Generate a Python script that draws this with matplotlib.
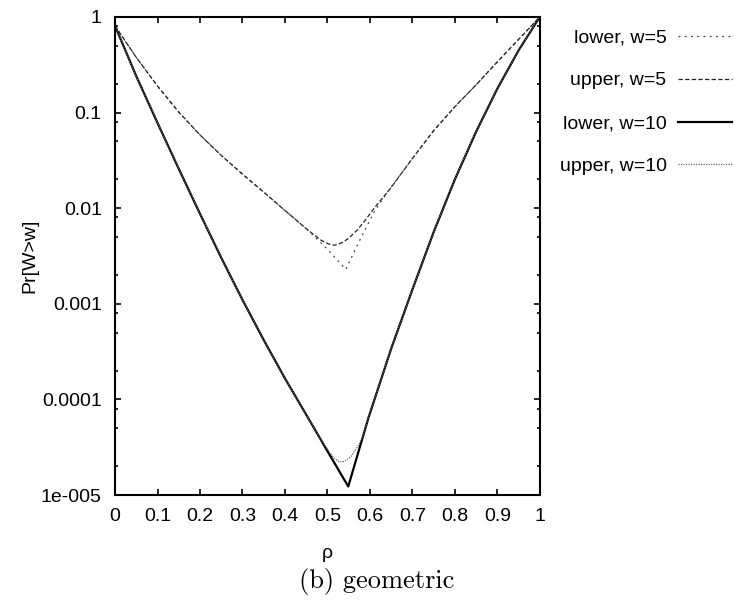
import matplotlib
matplotlib.use('Agg')
import matplotlib.pyplot as plt
from matplotlib.ticker import FixedLocator, FixedFormatter

# values (rho, Pr[W>w])
rho_w5_upper = [0, 0.05, 0.1, 0.15, 0.2, 0.25, 0.3, 0.35, 0.4, 0.45, 0.47, 0.485, 0.5,
                0.51, 0.52, 0.535, 0.55, 0.57, 0.59, 0.61, 0.647, 0.7, 0.75, 0.8, 0.85,
                0.9, 0.95, 1.0]
pr_w5_upper = [0.805, 0.377, 0.189, 0.101, 0.0583, 0.0356, 0.0227, 0.0147, 0.00946,
               0.00611, 0.00519, 0.00462, 0.00427, 0.00412, 0.00412, 0.00437, 0.00484,
               0.00589, 0.00759, 0.01, 0.0158, 0.0331, 0.0646, 0.115, 0.195, 0.339,
               0.582, 1.0]

rho_w5_lower = [0, 0.05, 0.1, 0.15, 0.2, 0.25, 0.3, 0.35, 0.4, 0.45, 0.5, 0.543, 0.58,
                0.61, 0.64, 0.7, 0.75, 0.8, 0.85, 0.9, 0.95, 1.0]
pr_w5_lower = [0.805, 0.377, 0.189, 0.101, 0.0583, 0.0356, 0.0227, 0.0147, 0.00946,
               0.00611, 0.00372, 0.00229, 0.00501, 0.00912, 0.0145, 0.0331, 0.0646,
               0.115, 0.195, 0.339, 0.582, 1.0]

rho_w10_lower = [0, 0.05, 0.1, 0.15, 0.2, 0.25, 0.3, 0.35, 0.4, 0.45, 0.5, 0.549, 0.596,
                 0.65, 0.7, 0.75, 0.8, 0.85, 0.9, 0.95, 1.0]
pr_w10_lower = [0.805, 0.240, 0.0778, 0.0258, 0.00873, 0.00303, 0.00110, 0.000418,
                0.000166, 6.93e-5, 2.88e-5, 1.23e-5, 6.31e-5, 3.39e-4, 1.41e-3, 5.62e-3,
                0.0200, 0.0631, 0.178, 0.447, 1.0]

rho_w10_upper = [0, 0.05, 0.1, 0.15, 0.2, 0.25, 0.3, 0.35, 0.4, 0.45, 0.48, 0.5, 0.515,
                 0.527, 0.54, 0.555, 0.57, 0.582, 0.596, 0.65, 0.7, 0.75, 0.8, 0.85, 0.9,
                 0.95, 1.0]
pr_w10_upper = [0.805, 0.240, 0.0778, 0.0258, 0.00873, 0.00303, 0.00110, 0.000418,
                0.000166, 6.93e-5, 4.07e-5, 3.02e-5, 2.45e-5, 2.24e-5, 2.24e-5, 2.51e-5,
                3.16e-5, 3.98e-5, 6.31e-5, 3.39e-4, 1.41e-3, 5.62e-3, 0.0200, 0.0631,
                0.178, 0.447, 1.0]

xticks = [0, 0.1, 0.2, 0.3, 0.4, 0.5, 0.6, 0.7, 0.8, 0.9, 1]
xtick_labels = ['0', '0.1', '0.2', '0.3', '0.4', '0.5', '0.6', '0.7', '0.8', '0.9', '1']
yticks = [1, 0.1, 0.01, 0.001, 0.0001, 0.00001]
ytick_labels = ['1', '0.1', '0.01', '0.001', '0.0001', '1e-005']

plt.rcParams['font.family'] = ['Liberation Sans', 'DejaVu Sans']

fig = plt.figure(figsize=(7.35, 6.03), dpi=100)
ax = fig.add_axes([0.1565, 0.179, 0.578, 0.793])

ax.plot(rho_w5_lower, pr_w5_lower, color='#444444', lw=0.9, ls=(0, (1.5, 3.5)),
        label='lower, w=5')
ax.plot(rho_w5_upper, pr_w5_upper, color='#222222', lw=0.9, ls=(0, (3.5, 1.8)),
        label='upper, w=5')
ax.plot(rho_w10_lower, pr_w10_lower, color='black', lw=1.6, label='lower, w=10')
ax.plot(rho_w10_upper, pr_w10_upper, color='#666666', lw=0.9, ls=(0, (1, 1)),
        label='upper, w=10')

ax.set_yscale('log')
ax.set_xlim(0, 1)
ax.set_ylim(1e-5, 1)

ax.xaxis.set_major_locator(FixedLocator(xticks))
ax.xaxis.set_major_formatter(FixedFormatter(xtick_labels))
ax.yaxis.set_major_locator(FixedLocator(yticks))
ax.yaxis.set_major_formatter(FixedFormatter(ytick_labels))
minors = [m * 10.0 ** k for k in range(-5, 0) for m in (2, 5, 8)]
ax.yaxis.set_minor_locator(FixedLocator(minors))
ax.xaxis.set_minor_locator(FixedLocator([]))

ax.tick_params(which='both', direction='in', top=True, right=True, width=1.2,
               labelsize=14, colors='black', pad=9.5)
ax.tick_params(which='major', length=4.5)
ax.tick_params(which='minor', length=2.2)
for s in ax.spines.values():
    s.set_linewidth(1.5)

ax.set_xlabel('ρ', fontsize=14, labelpad=14)
ax.set_ylabel('Pr[W>w]', fontsize=14, labelpad=2)

ax.legend(loc='upper right', bbox_to_anchor=(0.996, 0.952), bbox_transform=fig.transFigure,
          frameon=False, markerfirst=False, fontsize=14, handlelength=2.8,
          labelspacing=1.3, handletextpad=0.57, borderaxespad=0, borderpad=0)

fig.text(0.513, 0.025, '(b) geometric', fontsize=19, family='cmr10', ha='center')

fig.savefig('out.png', dpi=100)
